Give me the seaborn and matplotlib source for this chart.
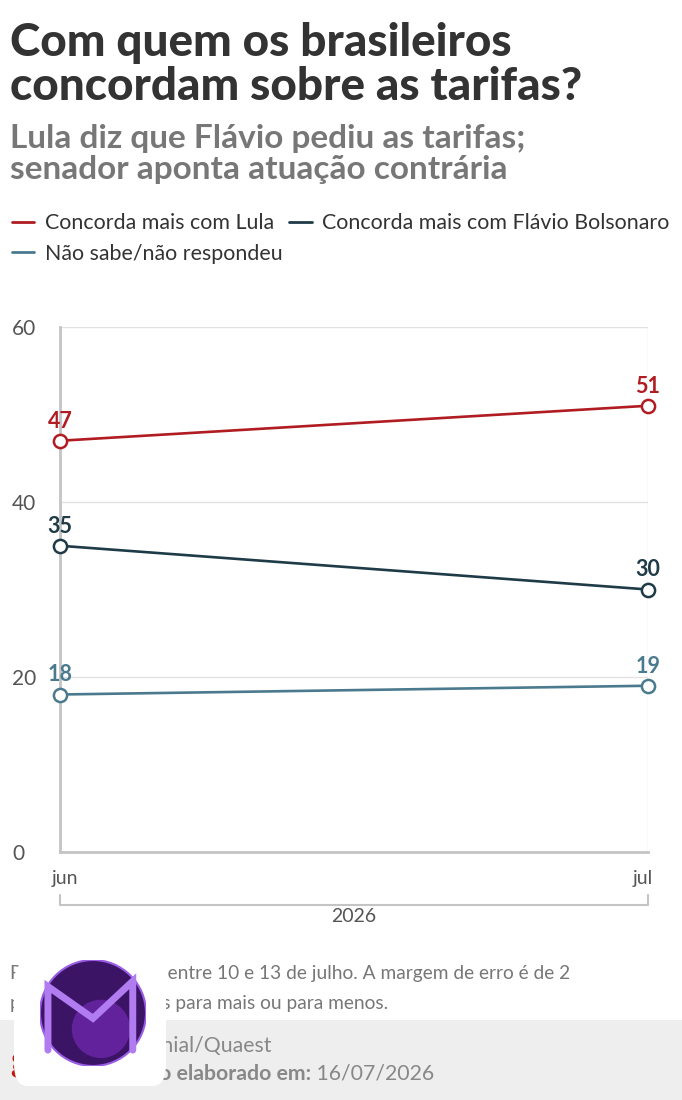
import matplotlib
matplotlib.use("Agg")
import matplotlib.pyplot as plt
from matplotlib.patches import Rectangle, FancyBboxPatch, Circle
from matplotlib.lines import Line2D
from matplotlib.transforms import ScaledTranslation, blended_transform_factory
import pandas as pd
import seaborn as sns

# data
months = ["jun", "jul"]
year = "2026"
series_names = ["Concorda mais com Lula",
                "Concorda mais com Flávio Bolsonaro",
                "Não sabe/não respondeu"]
lula = [47, 51]
flavio = [35, 30]
nao_sabe = [18, 19]
y_ticks = [0, 20, 40, 60]
colors = ["#b01c22", "#1f3b47", "#4b7a8f"]

W, H = 682, 1100


def fx(px):
    return px / W


def fy(py):
    return 1 - py / H


sns.set_theme(style="white")
plt.rcParams["font.family"] = ["Lato", "DejaVu Sans"]

df = pd.DataFrame({
    "x": list(range(len(months))) * 3,
    "valor": lula + flavio + nao_sabe,
    "serie": [n for n in series_names for _ in months],
})

fig = plt.figure(figsize=(W / 100, H / 100), dpi=100)
ax = fig.add_axes([fx(60), fy(852), fx(648) - fx(60), fy(327) - fy(852)])

palette = dict(zip(series_names, colors))
sns.lineplot(data=df, x="x", y="valor", hue="serie", hue_order=series_names,
             palette=palette, marker="o", markersize=9.5, linewidth=1.9,
             legend=False, ax=ax)
for line in ax.lines:
    c = line.get_color()
    line.set_markerfacecolor("white")
    line.set_markeredgecolor(c)
    line.set_markeredgewidth(1.8)
    line.set_clip_on(False)
    line.set_zorder(5)

# value labels above each point
for name in series_names:
    sub = df[df["serie"] == name]
    for x, v in zip(sub["x"], sub["valor"]):
        ax.annotate(str(v), (x, v), xytext=(0, 6.5), textcoords="offset points",
                    ha="center", va="bottom", color=palette[name],
                    fontsize=15.5, fontweight="bold", zorder=6)

ax.set_xlim(0, len(months) - 1)
ax.set_ylim(y_ticks[0], y_ticks[-1])
ax.set_yticks(y_ticks)
ax.set_xticks(range(len(months)), months)
ax.set_xlabel("")
ax.set_ylabel("")

for s in ["top", "right"]:
    ax.spines[s].set_visible(False)
for s in ["left", "bottom"]:
    ax.spines[s].set_color("#c4c4c4")
    ax.spines[s].set_linewidth(2)
ax.grid(True, color="#e2e2e2", linewidth=1)
ax.set_axisbelow(True)

ax.tick_params(axis="y", length=0, pad=34.5, labelsize=15, labelcolor="#555555")
ax.tick_params(axis="x", length=0, pad=13, labelsize=14, labelcolor="#555555")
for lab in ax.get_yticklabels():
    lab.set_horizontalalignment("left")
xl = ax.get_xticklabels()
xl[0].set_transform(xl[0].get_transform() + ScaledTranslation(5 / 100, 0, fig.dpi_scale_trans))
xl[-1].set_transform(xl[-1].get_transform() + ScaledTranslation(-5 / 100, 0, fig.dpi_scale_trans))

# year bracket under the month labels
tr = blended_transform_factory(ax.transData, ax.transAxes)
ax.plot([0, 0, len(months) - 1, len(months) - 1], [-0.082, -0.1, -0.1, -0.082],
        transform=tr, color="#c4c4c4", linewidth=1.5, clip_on=False)
ax.text((len(months) - 1) / 2, -0.123, year, transform=tr, ha="center", va="center",
        fontsize=14, color="#555555")

# titles
title_kw = dict(fontsize=33, fontweight="black", color="#333333", va="baseline")
fig.text(fx(10), fy(56), "Com quem os brasileiros", **title_kw)
fig.text(fx(10), fy(100), "concordam sobre as tarifas?", **title_kw)
sub_kw = dict(fontsize=24, fontweight="bold", color="#777777", va="baseline")
fig.text(fx(10), fy(148), "Lula diz que Flávio pediu as tarifas;", **sub_kw)
fig.text(fx(10), fy(179), "senador aponta atuação contrária", **sub_kw)

# legend
handles = [Line2D([], [], color=c, linewidth=2) for c in colors]
order = [0, 2, 1]
fig.legend([handles[i] for i in order], [series_names[i] for i in order],
           ncol=2, loc="upper left", bbox_to_anchor=(fx(12), fy(213)),
           borderaxespad=0, borderpad=0,
           frameon=False, fontsize=15.4, handlelength=1.05, handletextpad=0.5,
           columnspacing=0.3, labelspacing=0.5, labelcolor="#333333")

# footer note
note_kw = dict(fontsize=13.8, color="#777777", va="center")
fig.text(fx(10), fy(973), "Pesquisa realizada entre 10 e 13 de julho. A margem de erro é de 2", **note_kw)
fig.text(fx(10), fy(1003), "pontos percentuais para mais ou para menos.", **note_kw)

fig.patches.append(Rectangle((0, 0), 1, fy(1020), transform=fig.transFigure,
                             facecolor="#eeeeee", edgecolor="none", zorder=0))
fig.text(fx(10), fy(1062), "g1", fontsize=26, fontweight="black", color="#c4170c", va="center")

src_kw = dict(fontsize=15.3, color="#888888", va="baseline")
t1 = fig.text(fx(68), fy(1052), "Fonte:", fontweight="bold", **src_kw)
t3 = fig.text(fx(68), fy(1080), "Infográfico elaborado em:", fontweight="bold", **src_kw)
fig.canvas.draw()
inv = fig.transFigure.inverted()
for t, rest in [(t1, " Genial/Quaest"), (t3, " 16/07/2026")]:
    bb = t.get_window_extent()
    x_end = inv.transform((bb.x1, bb.y0))[0]
    fig.text(x_end, t.get_position()[1], rest, **src_kw)

# watermark badge covering the lower left corner
fig.patches.append(FancyBboxPatch((fx(14), fy(1086)), fx(152), fy(962) - fy(1086),
                                  boxstyle="round,pad=0,rounding_size=0.02",
                                  transform=fig.transFigure, facecolor="white",
                                  edgecolor="none", zorder=10))
badge = fig.add_axes([fx(40), fy(1066), fx(106), fy(960) - fy(1066)], zorder=11)
badge.set_xlim(-1, 1)
badge.set_ylim(-1, 1)
badge.set_aspect("equal")
badge.axis("off")
badge.add_patch(Circle((0, 0), 1, facecolor="#3b1466", edgecolor="#9b5de5", linewidth=1.5))
badge.add_patch(Circle((0.15, -0.3), 0.55, facecolor="#7b2cbf", edgecolor="none", alpha=0.6))
badge.plot([-0.85, -0.85, 0.0, 0.75, 0.75], [-0.7, 0.5, -0.1, 0.6, -0.7], color="#b07cf0",
           linewidth=5, solid_joinstyle="miter")

fig.savefig("out.png", dpi=100)
